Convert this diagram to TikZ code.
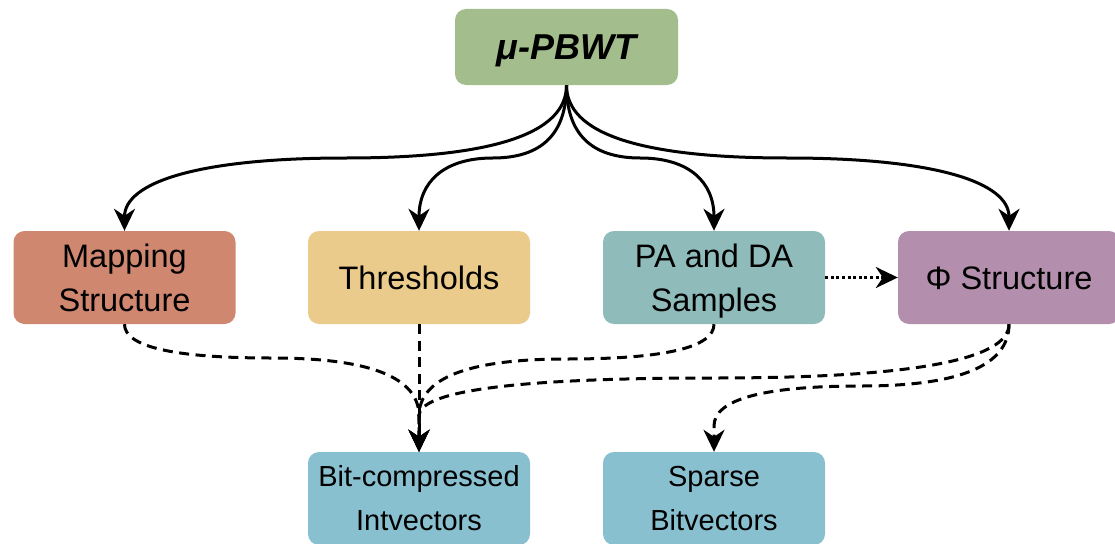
\documentclass[tikz,border=0pt]{standalone}
\usepackage{fontspec}
\setmainfont{Liberation Sans}
\usetikzlibrary{arrows.meta,calc}

% Nord palette
\definecolor{nordgreen}{HTML}{A3BE8C}
\definecolor{nordorange}{HTML}{D08770}
\definecolor{nordyellow}{HTML}{EBCB8B}
\definecolor{nordteal}{HTML}{8FBCBB}
\definecolor{nordpurple}{HTML}{B48EAD}
\definecolor{nordcyan}{HTML}{88C0D0}

\begin{document}
\begin{tikzpicture}[x=1pt,y=1pt,
  box/.style={rectangle, rounded corners=11pt, minimum width=222pt,
    minimum height=93pt, inner sep=0pt, align=center, text=black},
  oneline/.style={font=\fontsize{32.5}{44}\selectfont, text height=23.3pt, text depth=0pt},
  twoline/.style={font=\fontsize{32.5}{44}\selectfont, text height=67.3pt, text depth=0pt},
  smalltwo/.style={font=\fontsize{29}{44}\selectfont, text height=64.8pt, text depth=0pt},
  link/.style={line width=3pt, -{Stealth[length=22pt,width=21pt,inset=7pt]}},
  dep/.style={link, dash pattern=on 10pt off 6.5pt},
  dotlink/.style={link, dash pattern=on 3pt off 2.6pt},
  % orthogonal route (down, across at level #1, down) drawn as smooth curves
  elbow/.style={to path={let \p1=(\tikztostart), \p2=(\tikztotarget), \n1={#1} in
     .. controls (\x1,{\y1+2/3*(\n1-\y1)}) and ({(\x1+\x2)/2+(\x1-\x2)/3},\n1) .. ({(\x1+\x2)/2},\n1)
     .. controls ({(\x1+\x2)/2+(\x2-\x1)/3},\n1) and (\x2,{\y2+2/3*(\n1-\y2)}) .. (\tikztotarget)}}
]
\useasboundingbox (0,0) rectangle (1115,-543);
\clip (0,0) rectangle (1115,-543);

% boxes
\node[box, fill=nordgreen, minimum width=223pt, minimum height=76pt,
      font=\fontsize{36}{44}\selectfont\bfseries\itshape, text height=25.8pt, text depth=0pt]
      (top) at (566.5,-47) {μ-PBWT};
\node[box, twoline, fill=nordorange] (map) at (124.5,-277.5) {Mapping\\Structure};
\node[box, oneline, fill=nordyellow] (thr) at (419,-277.5) {Thresholds};
\node[box, twoline, fill=nordteal] (pa) at (714,-277.5) {PA and DA\\Samples};
\node[box, oneline, fill=nordpurple] (phi) at (1009,-277.5) {Φ Structure};
\node[box, smalltwo, fill=nordcyan] (bit) at (419,-498.5) {Bit-compressed\\Intvectors};
\node[box, smalltwo, fill=nordcyan] (sparse) at (714,-498.5) {Sparse\\Bitvectors};

% junction points above the lower boxes
\coordinate (jb) at (419,-416);
\coordinate (js) at (714,-426);

% components of the index
\draw[link] (top.south) to[elbow=-158] (map.north);
\draw[link] (top.south) to[elbow=-158] (thr.north);
\draw[link] (top.south) to[elbow=-158] (pa.north);
\draw[link] (top.south) to[elbow=-158] (phi.north);

% PA/DA samples feed the Phi structure
\draw[dotlink] (pa.east) -- (phi.west);

% storage back-ends
\draw[dep] (thr.south) -- (bit.north);
\draw[dep] (map.south) to[elbow=-358] (jb) -- (bit.north);
\draw[dep] (pa.south) to[elbow=-359] (jb) -- (bit.north);
\draw[dep] (phi.south) to[elbow=-378] (jb) -- (bit.north);
\draw[dep] (phi.south) to[elbow=-386] (js) -- (sparse.north);
\end{tikzpicture}
\end{document}
